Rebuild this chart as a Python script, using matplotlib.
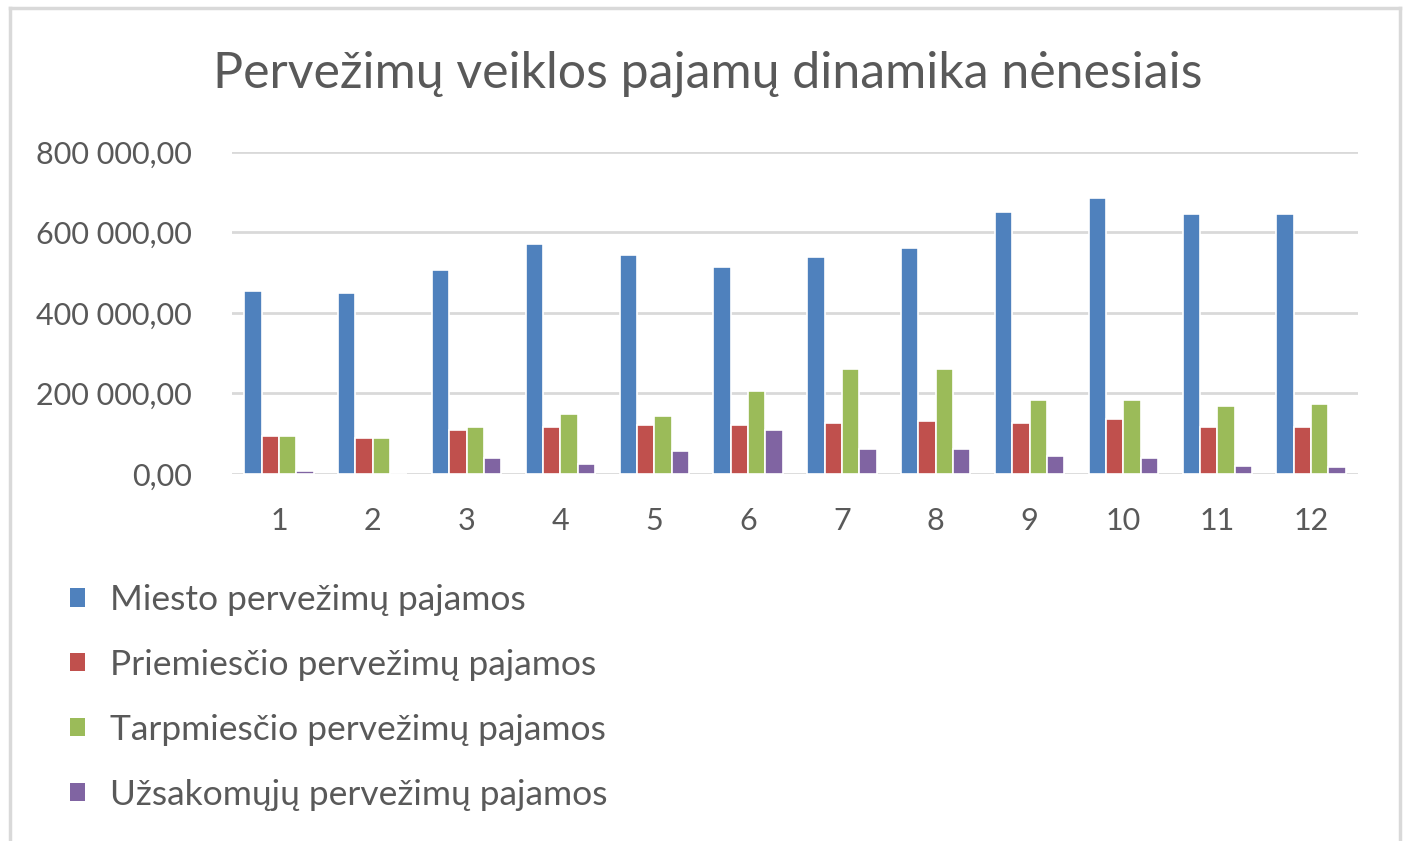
import numpy as np
import matplotlib.pyplot as plt
from matplotlib.patches import Patch
from matplotlib.lines import Line2D
from matplotlib.ticker import FuncFormatter

plt.rcParams['font.family'] = ['Lato', 'DejaVu Sans']

menesiai = [1, 2, 3, 4, 5, 6, 7, 8, 9, 10, 11, 12]
miesto = [455000, 450000, 507000, 571000, 543000, 515000, 539000, 562000, 650000, 686000, 646000, 646000]
priemiescio = [95000, 90500, 109000, 118000, 122000, 122000, 126000, 132000, 126000, 136000, 118000, 118000]
tarpmiescio = [95000, 90500, 118000, 149000, 145000, 206000, 261000, 261000, 183000, 183000, 168000, 173000]
uzsakomuju = [6600, 0, 40000, 25000, 57000, 109000, 62000, 62000, 44000, 39000, 21000, 17000]

serijos = ['Miesto pervežimų pajamos', 'Priemiesčio pervežimų pajamos',
           'Tarpmiesčio pervežimų pajamos', 'Užsakomųjų pervežimų pajamos']
spalvos = ['#4F81BD', '#C0504D', '#9BBB59', '#8064A2']
teksto_sp = '#595959'

W, H = 1405, 841
fig = plt.figure(figsize=(W/100, H/100), dpi=100)
ax = fig.add_axes([232/W, 1-474/H, (1358-232)/W, (474-152)/H])

x = np.arange(len(menesiai))
plotis = 0.185
duomenys = [miesto, priemiescio, tarpmiescio, uzsakomuju]
for i, (d, c) in enumerate(zip(duomenys, spalvos)):
    ax.bar(x + (i-1.5)*plotis, d, width=plotis, color=c, edgecolor='white', linewidth=1.2, zorder=3)

ax.set_xlim(-0.5, len(menesiai)-0.5)
ax.set_ylim(0, 800000)
ax.set_yticks([0, 200000, 400000, 600000, 800000])
ax.yaxis.set_major_formatter(FuncFormatter(lambda v, p: '{:,.2f}'.format(v).replace(',', ' ').replace('.', ',')))
ax.set_xticks(x)
ax.set_xticklabels([str(m) for m in menesiai])
ax.grid(axis='y', color='#D9D9D9', linewidth=2, zorder=0)
for s in ax.spines.values():
    s.set_visible(False)
ax.tick_params(axis='both', length=0, labelsize=22, labelcolor=teksto_sp)
ax.tick_params(axis='y', pad=29)
ax.tick_params(axis='x', pad=24)

fig.text(708/W, 1-74/H, 'Pervežimų veiklos pajamų dinamika nėnesiais',
         ha='center', va='center', fontsize=36, color=teksto_sp)

rankenos = [Patch(facecolor=c, edgecolor='none') for c in spalvos]
leg = fig.legend(rankenos, serijos, loc='upper left', bbox_to_anchor=(70/W, 1-584/H),
                 frameon=False, fontsize=25.5, handlelength=0.42, handleheight=0.42,
                 handletextpad=0.7, labelspacing=0.93, borderpad=0, borderaxespad=0)
for t in leg.get_texts():
    t.set_color(teksto_sp)

# remelis aplink diagrama
ks = '#D9D9D9'
fig.add_artist(Line2D([10/W, 10/W], [0, 1-8/H], color=ks, linewidth=2.5))
fig.add_artist(Line2D([1400/W, 1400/W], [0, 1-8/H], color=ks, linewidth=2.5))
fig.add_artist(Line2D([10/W, 1400/W], [1-8/H, 1-8/H], color=ks, linewidth=2.5))

plt.savefig('out.png', dpi=100)
